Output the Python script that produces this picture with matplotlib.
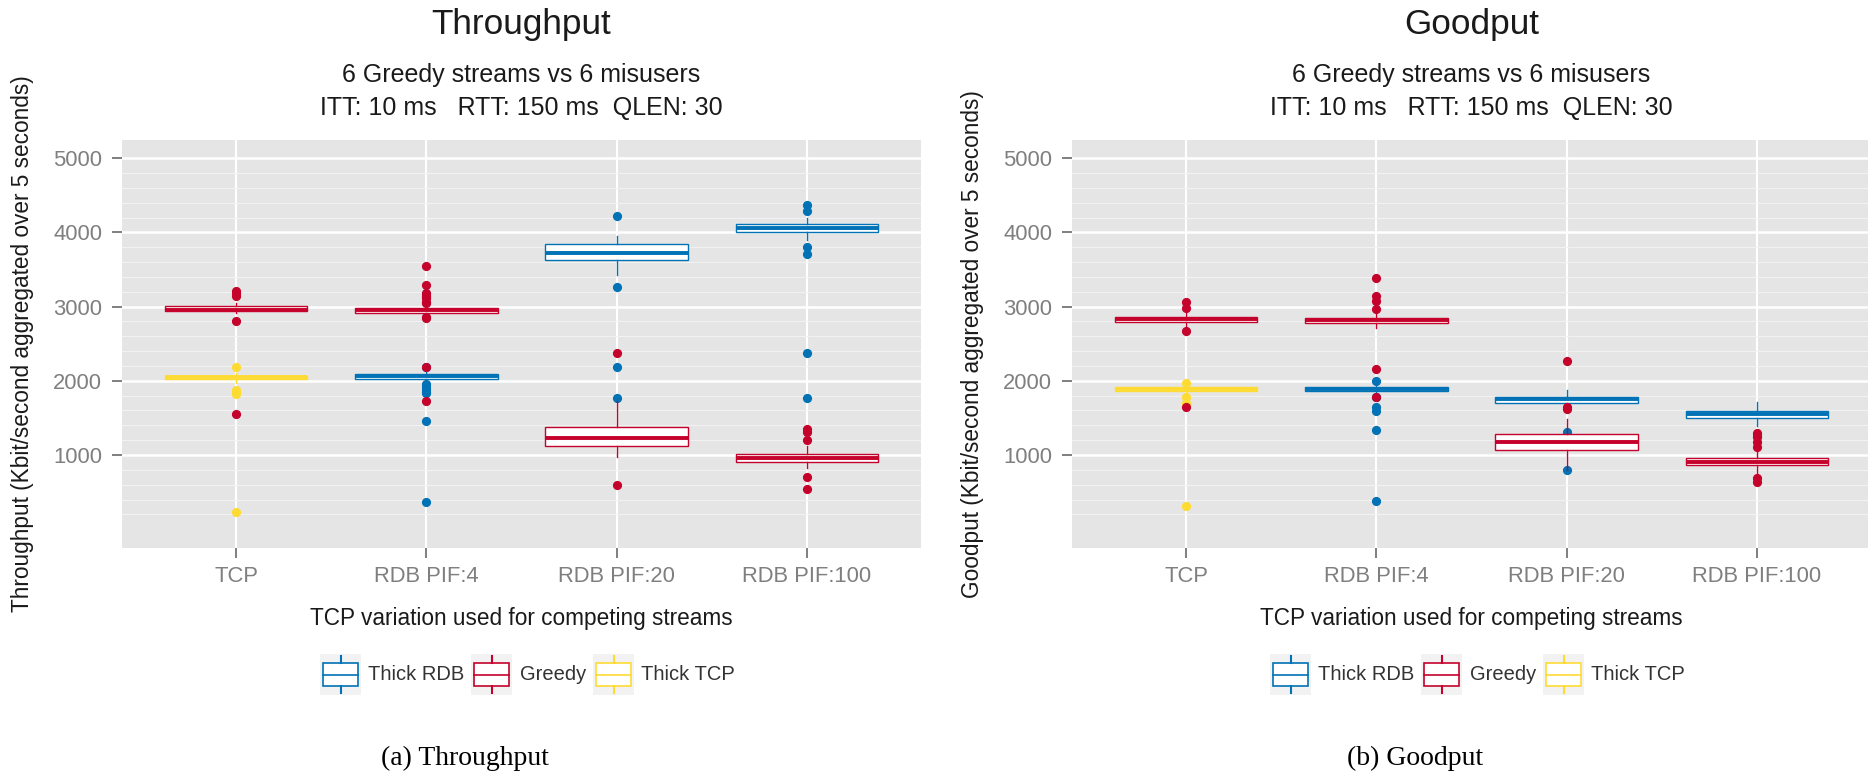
import matplotlib
matplotlib.use("Agg")
import matplotlib.pyplot as plt
from matplotlib.patches import Rectangle

plt.rcParams['font.family'] = ['Liberation Sans', 'DejaVu Sans']

W, H = 1868, 783

categories = ["TCP", "RDB PIF:4", "RDB PIF:20", "RDB PIF:100"]
series_names = ["Thick RDB", "Greedy", "Thick TCP"]
RED = "#C4022C"
BLUE = "#0072B5"
YELLOW = "#FEDB33"

# ---- Throughput (box stats) ----
tp_greedy_q1 = [2937, 2918, 1121, 902]
tp_greedy_med = [2960, 2948, 1225, 955]
tp_greedy_q3 = [3004, 2977, 1373, 1009]
tp_greedy_lo = [2910, 2890, 969, 821]
tp_greedy_hi = [3044, 3010, 1732, 1121]
tp_greedy_out = [[3210, 3179, 3147, 2806, 1552],
                 [3547, 3291, 3179, 3147, 3112, 3066, 3044, 2865, 2842, 2182, 1728],
                 [2375, 596],
                 [1346, 1314, 1202, 700, 542]]

tp_thick_tcp_q1 = [2020]
tp_thick_tcp_med = [2045]
tp_thick_tcp_q3 = [2069]
tp_thick_tcp_lo = [1975]
tp_thick_tcp_hi = [2101]
tp_thick_tcp_out = [[2186, 1876, 1853, 1822, 232]]

tp_thick_rdb_q1 = [2029, 3628, 4005]
tp_thick_rdb_med = [2060, 3717, 4055]
tp_thick_rdb_q3 = [2088, 3848, 4109]
tp_thick_rdb_lo = [2000, 3426, 3898]
tp_thick_rdb_hi = [2130, 3951, 4198]
tp_thick_rdb_out = [[2180, 1957, 1920, 1885, 1853, 1831, 1458, 371],
                    [4221, 3268, 2186, 1772],
                    [4365, 4288, 3807, 3709, 2375, 1772]]

# ---- Goodput ----
gp_greedy_q1 = [2788, 2779, 1067, 865]
gp_greedy_med = [2829, 2815, 1180, 910]
gp_greedy_q3 = [2859, 2850, 1279, 955]
gp_greedy_lo = [2729, 2716, 798, 753]
gp_greedy_hi = [2931, 2931, 1485, 1050]
gp_greedy_out = [[3066, 2977, 2671, 1647],
                 [3390, 3147, 3076, 2968, 2159, 1777],
                 [2271, 1651, 1616],
                 [1300, 1238, 1180, 1112, 686, 640]]

gp_thick_tcp_q1 = [1858]
gp_thick_tcp_med = [1885]
gp_thick_tcp_q3 = [1912]
gp_thick_tcp_lo = [1830]
gp_thick_tcp_hi = [1940]
gp_thick_tcp_out = [[1966, 1786, 1697, 313]]

gp_thick_rdb_q1 = [1867, 1697, 1499]
gp_thick_rdb_med = [1894, 1751, 1548]
gp_thick_rdb_q3 = [1921, 1786, 1593]
gp_thick_rdb_lo = [1840, 1600, 1391]
gp_thick_rdb_hi = [1950, 1876, 1718]
gp_thick_rdb_out = [[1997, 1777, 1651, 1593, 1337, 384],
                    [1314, 798],
                    [1270]]

y_major = [1000, 2000, 3000, 4000, 5000]
y_minor = [v for v in range(0, 5001, 200) if v % 1000 != 0]


def make_stats(q1, med, q3, lo, hi, out):
    return [dict(q1=a, med=b, q3=c, whislo=d, whishi=e, fliers=f)
            for a, b, c, d, e, f in zip(q1, med, q3, lo, hi, out)]


def draw_boxes(ax, stats, positions, color):
    ax.bxp(stats, positions=positions, widths=0.75, patch_artist=True, showcaps=False,
           boxprops=dict(facecolor="white", edgecolor=color, linewidth=1.0),
           medianprops=dict(color=color, linewidth=2.8, solid_capstyle="butt"),
           whiskerprops=dict(color=color, linewidth=1.0),
           flierprops=dict(marker="o", markerfacecolor=color, markeredgecolor=color,
                           markersize=5.6, linestyle="none"),
           manage_ticks=False)


def style_axes(ax, ylabel):
    ax.set_facecolor("#E5E5E5")
    for s in ax.spines.values():
        s.set_visible(False)
    ax.set_axisbelow(True)
    ax.set_xlim(-0.6, 3.6)
    ax.set_ylim(-253, 5245)
    ax.set_xticks(range(len(categories)))
    ax.set_xticklabels(categories)
    ax.set_yticks(y_major)
    ax.set_yticks(y_minor, minor=True)
    ax.grid(which="major", axis="y", color="white", linewidth=1.8)
    ax.grid(which="minor", axis="y", color="#F2F2F2", linewidth=0.8)
    ax.grid(which="major", axis="x", color="white", linewidth=1.5)
    ax.tick_params(which="major", length=7.2, width=1.4, color="#7F7F7F",
                   labelcolor="#7F7F7F", labelsize=15.8)
    ax.tick_params(axis="y", pad=7)
    ax.tick_params(axis="x", pad=6)
    ax.tick_params(which="minor", length=0)
    ax.set_ylabel(ylabel, fontsize=16.3, color="#1A1A1A")
    ax.yaxis.set_label_coords(-99 / 799, 0.5)
    ax.yaxis.label.set_va("center")
    ax.set_xlabel("TCP variation used for competing streams", fontsize=16.3, color="#1A1A1A")
    ax.xaxis.set_label_coords(0.5, -71 / 408)
    ax.xaxis.label.set_va("center")


def draw_legend(fig, x0):
    keys = [(0, 48, BLUE), (151, 200, RED), (273, 321, YELLOW)]
    for (kx, tx, col), name in zip(keys, series_names):
        kax = fig.add_axes([(x0 + kx) / W, (H - 695) / H, 41 / W, 41 / H])
        kax.set_xlim(0, 41)
        kax.set_ylim(41, 0)
        kax.set_facecolor("#F2F2F2")
        kax.set_xticks([])
        kax.set_yticks([])
        for s in kax.spines.values():
            s.set_visible(False)
        kax.add_patch(Rectangle((3, 9), 35, 23, facecolor="white", edgecolor=col, linewidth=1.2))
        kax.plot([3, 38], [20.5, 20.5], color=col, linewidth=1.2)
        kax.plot([20.5, 20.5], [2, 9], color=col, linewidth=1.5)
        kax.plot([20.5, 20.5], [32, 39], color=col, linewidth=1.5)
        fig.text((x0 + tx) / W, 1 - 674.5 / H, name, fontsize=14.5, color="#333333",
                 ha="left", va="center")


fig = plt.figure(figsize=(W / 100, H / 100), dpi=100)

panels = [
    (122, "Throughput", "Throughput (Kbit/second aggregated over 5 seconds)", "(a) Throughput",
     make_stats(tp_thick_tcp_q1, tp_thick_tcp_med, tp_thick_tcp_q3, tp_thick_tcp_lo, tp_thick_tcp_hi, tp_thick_tcp_out),
     make_stats(tp_thick_rdb_q1, tp_thick_rdb_med, tp_thick_rdb_q3, tp_thick_rdb_lo, tp_thick_rdb_hi, tp_thick_rdb_out),
     make_stats(tp_greedy_q1, tp_greedy_med, tp_greedy_q3, tp_greedy_lo, tp_greedy_hi, tp_greedy_out)),
    (1072, "Goodput", "Goodput (Kbit/second aggregated over 5 seconds)", "(b) Goodput",
     make_stats(gp_thick_tcp_q1, gp_thick_tcp_med, gp_thick_tcp_q3, gp_thick_tcp_lo, gp_thick_tcp_hi, gp_thick_tcp_out),
     make_stats(gp_thick_rdb_q1, gp_thick_rdb_med, gp_thick_rdb_q3, gp_thick_rdb_lo, gp_thick_rdb_hi, gp_thick_rdb_out),
     make_stats(gp_greedy_q1, gp_greedy_med, gp_greedy_q3, gp_greedy_lo, gp_greedy_hi, gp_greedy_out)),
]

for left, title, ylabel, caption, thick_tcp, thick_rdb, greedy in panels:
    ax = fig.add_axes([left / W, (H - 548) / H, 799 / W, 408 / H])
    style_axes(ax, ylabel)
    draw_boxes(ax, thick_tcp, [0], YELLOW)
    draw_boxes(ax, thick_rdb, [1, 2, 3], BLUE)
    draw_boxes(ax, greedy, [0, 1, 2, 3], RED)

    cx = (left + 399.5) / W
    fig.text(cx, 1 - 34 / H, title, fontsize=25.3, color="#1A1A1A", ha="center", va="baseline")
    fig.text(cx, 1 - 82 / H, "6 Greedy streams vs 6 misusers", fontsize=18,
             color="#1A1A1A", ha="center", va="baseline")
    fig.text(cx, 1 - 115 / H, "ITT: 10 ms   RTT: 150 ms  QLEN: 30", fontsize=18,
             color="#1A1A1A", ha="center", va="baseline")

    draw_legend(fig, left + 198)
    fig.text((left + 343) / W, 1 - 765 / H, caption, fontsize=20,
             family=["Liberation Serif", "DejaVu Serif"], ha="center", va="baseline")

fig.savefig("out.png", dpi=100)
